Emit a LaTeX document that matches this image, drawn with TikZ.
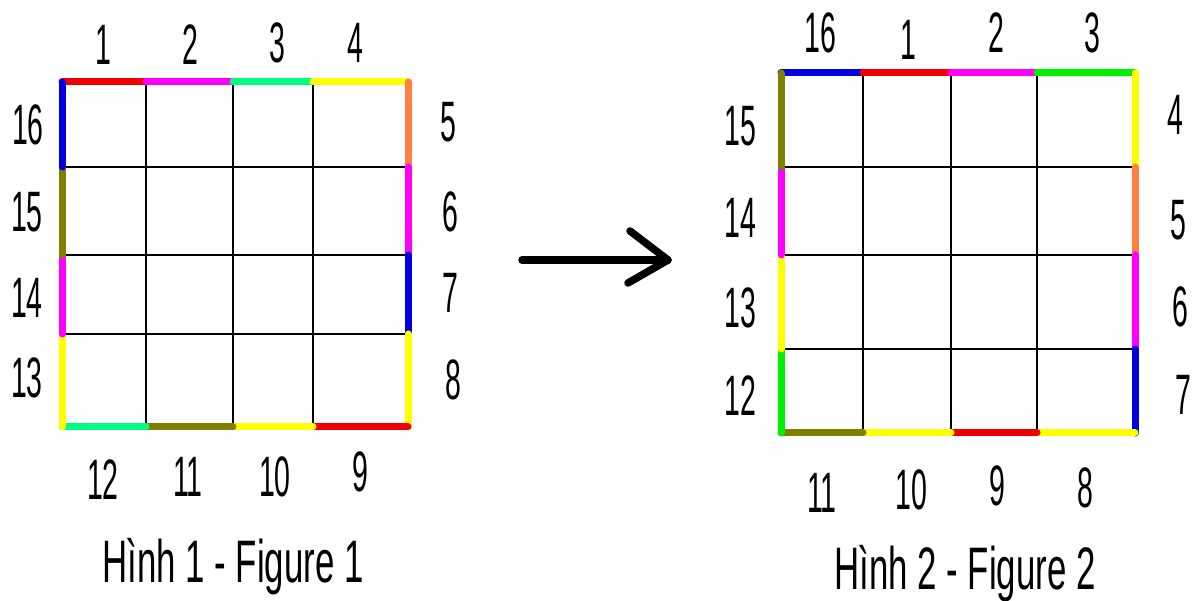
\documentclass[tikz,border=0pt]{standalone}
\usepackage{fontspec}
\setmainfont{Liberation Sans}[FakeStretch=0.5]
\newfontfamily\capfont{Liberation Sans}[FakeStretch=0.58]
\begin{document}
\begin{tikzpicture}[x=1pt,y=-1pt,
  lbl/.style={font=\fontsize{57}{57}\selectfont, inner sep=0pt},
  captxt/.style={font=\capfont\fontsize{60}{60}\selectfont, inner sep=0pt},
  gridln/.style={black, line width=1.6pt},
  seg/.style={line width=7pt, line cap=round},
  ]
\definecolor{cRed}{HTML}{F00000}
\definecolor{cMag}{HTML}{FF00FF}
\definecolor{cSpr}{HTML}{00FF80}
\definecolor{cGrn}{HTML}{00F000}
\definecolor{cYel}{HTML}{FFFF00}
\definecolor{cOra}{HTML}{FF8040}
\definecolor{cBlu}{HTML}{0000E0}
\definecolor{cOli}{HTML}{808000}
\useasboundingbox[fill=white] (0,0) rectangle (1195,601);

% ---------- Figure 1 ----------
\foreach \x in {62,146,233,313,408} \draw[gridln] (\x,82) -- (\x,427);
\foreach \y in {82,167,255,334,427} \draw[gridln] (62,\y) -- (408,\y);
\coordinate (a0) at (62,82);
\coordinate (a1) at (146,82);
\coordinate (a2) at (233,82);
\coordinate (a3) at (313,82);
\coordinate (a4) at (408,82);
\coordinate (r1) at (408,167);
\coordinate (r2) at (408,255);
\coordinate (r3) at (408,334);
\coordinate (r4) at (408,427);
\coordinate (b3) at (313,427);
\coordinate (b2) at (233,427);
\coordinate (b1) at (146,427);
\coordinate (b0) at (62,427);
\coordinate (l3) at (62,334);
\coordinate (l2) at (62,255);
\coordinate (l1) at (62,167);
\draw[seg,cRed] (a0) -- (a1);
\draw[seg,cMag] (a1) -- (a2);
\draw[seg,cSpr] (a2) -- (a3);
\draw[seg,cYel] (a3) -- (a4);
\draw[seg,cOra] (a4) -- (r1);
\draw[seg,cMag] (r1) -- (r2);
\draw[seg,cBlu] (r2) -- (r3);
\draw[seg,cYel] (r3) -- (r4);
\draw[seg,cRed] (r4) -- (b3);
\draw[seg,cYel] (b3) -- (b2);
\draw[seg,cOli] (b2) -- (b1);
\draw[seg,cSpr] (b1) -- (b0);
\draw[seg,cYel] (b0) -- (l3);
\draw[seg,cMag] (l3) -- (l2);
\draw[seg,cOli] (l2) -- (l1);
\draw[seg,cBlu] (l1) -- (a0);
\node[lbl] (t1) at (103,45) {1};
\node[lbl] (t2) at (190,45) {2};
\node[lbl] (t3) at (277,43) {3};
\node[lbl] (t4) at (355,43) {4};
\node[lbl] (n5) at (448,122) {5};
\node[lbl] (n6) at (450,212) {6};
\node[lbl] (n7) at (450,293) {7};
\node[lbl] (n8) at (453,380) {8};
\node[lbl] (n9) at (360,472) {9};
\node[lbl] (n10) at (275,477) {10};
\node[lbl] (n11) at (188,477) {11};
\node[lbl] (n12) at (103,480) {12};
\node[lbl] (n13) at (27,378) {13};
\node[lbl] (n14) at (27,298) {14};
\node[lbl] (n15) at (27,212) {15};
\node[lbl] (n16) at (28,125) {16};
\node[captxt] (c1) at (233,567) {Hình 1 - Figure 1};

% ---------- Arrow ----------
\coordinate (arA) at (522,260);
\coordinate (arB) at (668,260);
\draw[line width=7.5pt, line cap=round] (arA) -- (arB);
\draw[line width=7.5pt, line cap=round, line join=round] (630,231) -- (arB) -- (628,283);

% ---------- Figure 2 ----------
\foreach \x in {781,863,951,1037,1135} \draw[gridln] (\x,73) -- (\x,433);
\foreach \y in {73,167,255,349,433} \draw[gridln] (781,\y) -- (1135,\y);
\coordinate (p0) at (781,73);
\coordinate (p1) at (863,73);
\coordinate (p2) at (951,73);
\coordinate (p3) at (1037,73);
\coordinate (p4) at (1135,73);
\coordinate (q1) at (1135,167);
\coordinate (q2) at (1135,255);
\coordinate (q3) at (1135,349);
\coordinate (q4) at (1135,433);
\coordinate (s3) at (1037,433);
\coordinate (s2) at (951,433);
\coordinate (s1) at (863,433);
\coordinate (s0) at (781,433);
\coordinate (u3) at (781,349);
\coordinate (u2) at (781,255);
\coordinate (u1) at (781,167);
\draw[seg,cBlu] (p0) -- (p1);
\draw[seg,cRed] (p1) -- (p2);
\draw[seg,cMag] (p2) -- (p3);
\draw[seg,cGrn] (p3) -- (p4);
\draw[seg,cYel] (p4) -- (q1);
\draw[seg,cOra] (q1) -- (q2);
\draw[seg,cMag] (q2) -- (q3);
\draw[seg,cBlu] (q3) -- (q4);
\draw[seg,cYel] (q4) -- (s3);
\draw[seg,cRed] (s3) -- (s2);
\draw[seg,cYel] (s2) -- (s1);
\draw[seg,cOli] (s1) -- (s0);
\draw[seg,cGrn] (s0) -- (u3);
\draw[seg,cYel] (u3) -- (u2);
\draw[seg,cMag] (u2) -- (u1);
\draw[seg,cOli] (u1) -- (p0);
\node[lbl] (v16) at (820,33) {16};
\node[lbl] (v1) at (908,40) {1};
\node[lbl] (v2) at (996,33) {2};
\node[lbl] (v3) at (1092,33) {3};
\node[lbl] (v4) at (1175,115) {4};
\node[lbl] (v5) at (1178,220) {5};
\node[lbl] (v6) at (1180,307) {6};
\node[lbl] (v7) at (1183,395) {7};
\node[lbl] (v8) at (1085,488) {8};
\node[lbl] (v9) at (997,486) {9};
\node[lbl] (v10) at (911,490) {10};
\node[lbl] (v11) at (822,493) {11};
\node[lbl] (v12) at (740,396) {12};
\node[lbl] (v13) at (740,308) {13};
\node[lbl] (v14) at (740,218) {14};
\node[lbl] (v15) at (740,126) {15};
\node[captxt] (c2) at (965,574) {Hình 2 - Figure 2};
\end{tikzpicture}
\end{document}
